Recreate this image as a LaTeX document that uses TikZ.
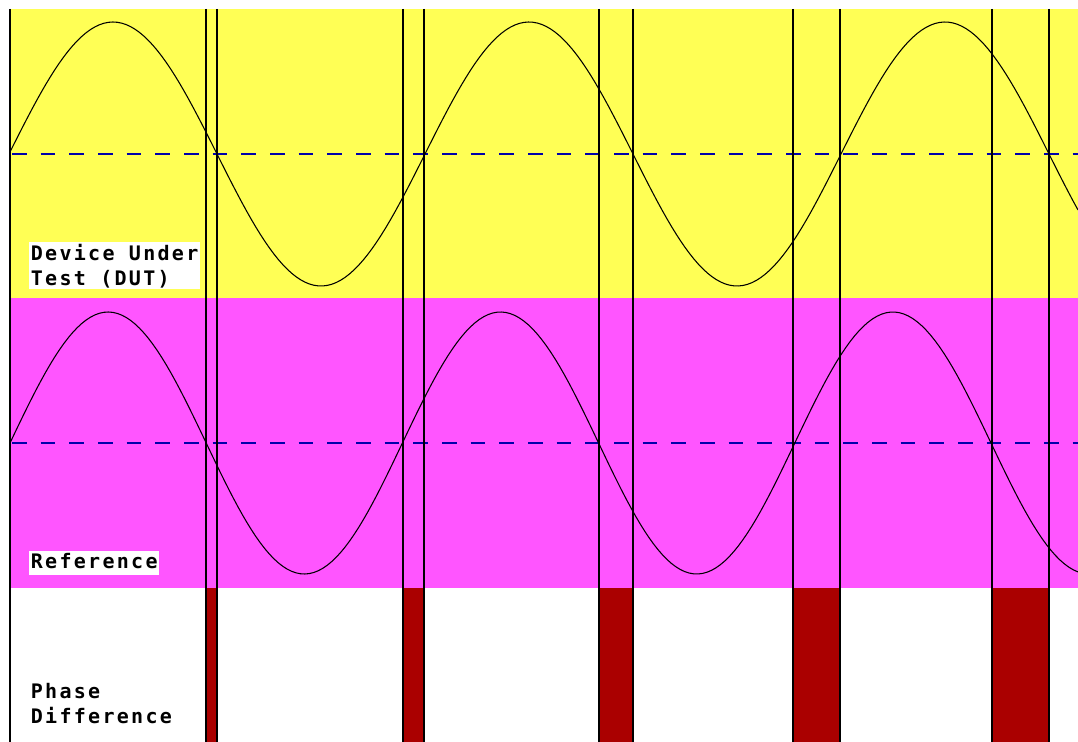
\documentclass[tikz,border=0pt]{standalone}
\usepackage{fontspec}
\newfontfamily\dosfont{DejaVu Sans Mono}[LetterSpace=11.5]
\definecolor{dutyellow}{RGB}{255,255,85}
\definecolor{refmagenta}{RGB}{255,85,255}
\definecolor{phasered}{RGB}{170,0,0}
\definecolor{zeroblue}{RGB}{0,0,170}
\begin{document}
\begin{tikzpicture}[x=0.75pt,y=0.75pt,yscale=-1,xscale=1,
		wave/.style={line width=0.8pt},
		zeroline/.style={color=zeroblue,line width=0.9pt,dash pattern={on 11pt off 10.5pt}},
		crossline/.style={line width=1.1pt},
		lbl/.style={anchor=north west,inner sep=1.2pt,align=left,font=\dosfont\bfseries\fontsize{15}{18.75}\selectfont}]
		\useasboundingbox (0,0) rectangle (1078,742);
		
		%Shape: Rectangle [DUT band]
		\fill [dutyellow] (10,9) rectangle (1078,298);
		%Shape: Rectangle [Reference band]
		\fill [refmagenta] (10,298) rectangle (1078,588);
		%Shape: Rectangle [phase bars]
		\foreach \a/\b in {206/217,403/424,599/633,793/840,992/1049}
			\fill [phasered] (\a,588) rectangle (\b,742);
		
		%Straight Lines [zero levels]
		\draw [zeroline] (12,154) -- (1078,154);
		\draw [zeroline] (12,443) -- (1078,443);
		
		%Curve Lines [DUT wave, period 416]
		\draw [wave,domain=10:1078,samples=240] plot (\x,{154-132*sin(0.865385*(\x-9))});
		%Curve Lines [Reference wave, period 392.4]
		\draw [wave,domain=10:1078,samples=240] plot (\x,{443-131*sin(0.917431*(\x-10))});
		
		%Straight Lines [left edge]
		\draw [line width=1.6pt] (10,9) -- (10,742);
		%Straight Lines [zero crossings]
		\foreach \a/\b in {206/217,403/424,599/633,793/840,992/1049}{
			\draw [crossline] (\a,9) -- (\a,742);
			\draw [crossline] (\b,9) -- (\b,742);
		}
		
		% Text Node
		\node [lbl,fill=white] (dut) at (29,242) {Device Under\\Test (DUT)};
		% Text Node
		\node [lbl,fill=white,text depth=4pt] (ref) at (29,551) {Reference};
		% Text Node
		\node [lbl] (phase) at (29,681) {Phase\\Difference};
		
\end{tikzpicture}
\end{document}
